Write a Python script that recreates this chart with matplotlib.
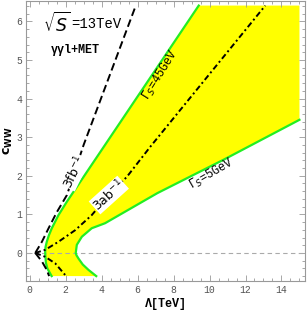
import matplotlib
matplotlib.use("Agg")
import matplotlib.pyplot as plt
from matplotlib.ticker import MultipleLocator

# boundary Gamma_S = 45 GeV (left edge of the band), bottom to top
lam_45 = [1.22, 0.98, 0.9, 0.86, 0.88, 0.95, 1.07, 1.23, 1.6, 2.07, 9.4]
c_45 = [-0.6, -0.4, -0.25, 0.0, 0.15, 0.29, 0.46, 0.64, 0.98, 1.33, 6.41]

# boundary Gamma_S = 5 GeV (right edge of the band), bottom to top
lam_5 = [3.7, 3.27, 2.95, 2.72, 2.6, 2.56, 2.62, 2.9, 3.45, 4.19, 7.1, 10.8, 15.0]
c_5 = [-0.6, -0.44, -0.3, -0.15, -0.06, 0.0, 0.21, 0.42, 0.64, 0.77, 1.55, 2.42, 3.45]

# 3 fb^-1 contour (two branches)
lam_3fb_up = [0.31, 0.68, 1.05, 1.5, 2.07, 3.0, 5.9]
c_3fb_up = [0.0, 0.29, 0.64, 1.05, 1.5, 2.8, 6.41]
lam_3fb_dn = [0.31, 0.68, 0.95, 1.08]
c_3fb_dn = [0.0, -0.22, -0.44, -0.6]

# 3 ab^-1 contour (two branches)
lam_3ab_up = [0.31, 0.86, 1.6, 2.53, 3.45, 3.92, 4.5, 5.4, 6.72, 13.1]
c_3ab_up = [0.0, 0.08, 0.29, 0.59, 0.98, 1.24, 1.55, 1.97, 2.76, 6.41]
lam_3ab_dn = [0.31, 0.86, 1.42, 1.97]
c_3ab_dn = [0.0, -0.1, -0.27, -0.57]

mono = "Liberation Mono"
green = "#22ee22"

fig = plt.figure(figsize=(3.07, 3.12), dpi=100)
ax = fig.add_axes([0.085, 0.099, 0.908, 0.898])

# yellow band between the two width contours
band_x = lam_45 + [lam_5[-1]] + lam_5[::-1]
band_y = c_45 + [c_45[-1]] + c_5[::-1]
ax.fill(band_x, band_y, color="#ffff00", lw=0, zorder=1)

ax.axhline(0, color="#aaaaaa", lw=0.8, ls=(0, (4, 3)), zorder=2)

ax.plot(lam_45, c_45, color=green, lw=1.6, zorder=3)
ax.plot(lam_5, c_5, color=green, lw=1.6, zorder=3)

ax.plot(lam_3fb_up, c_3fb_up, color="black", lw=1.4, ls=(0, (4, 2)), zorder=4)
ax.plot(lam_3fb_dn, c_3fb_dn, color="black", lw=1.4, ls=(0, (4, 2)), zorder=4)
dashdot = (0, (3, 1.5, 1, 1.5))
ax.plot(lam_3ab_up, c_3ab_up, color="black", lw=1.4, ls=dashdot, zorder=4)
ax.plot(lam_3ab_dn, c_3ab_dn, color="black", lw=1.4, ls=dashdot, zorder=4)

# contour labels
box = dict(facecolor="white", edgecolor="none", pad=0.3)
ax.text(2.5, 2.1, r"3fb$^{-1}$", rotation=64, fontsize=9, ha="center", va="center",
        bbox=box, zorder=5)
ax.text(4.4, 1.5, r"3ab$^{-1}$", rotation=42, fontsize=9, ha="center", va="center",
        bbox=box, zorder=5)
ax.text(7.3, 4.6, r"$\Gamma_S$=45GeV", rotation=58, fontsize=8.5, ha="center", va="center",
        family=mono, zorder=5)
ax.text(10.1, 2.05, r"$\Gamma_S$=5GeV", rotation=30, fontsize=8.5, ha="center", va="center",
        family=mono, zorder=5)

ax.text(0.75, 5.93, r"$\sqrt{S}$", fontsize=12.5, va="center")
ax.text(2.3, 5.93, "=13TeV", fontsize=10, family=mono, va="center")
ax.text(1.17, 5.27, "γγl+MET", fontsize=8.5, family=mono, weight="bold", va="center")

ax.set_xlim(-0.2, 15.3)
ax.set_ylim(-0.73, 6.53)

ax.xaxis.set_major_locator(MultipleLocator(2))
ax.xaxis.set_minor_locator(MultipleLocator(0.5))
ax.yaxis.set_major_locator(MultipleLocator(1))
ax.yaxis.set_minor_locator(MultipleLocator(0.2))
ax.tick_params(which="both", direction="in", top=True, right=True, color="#999999",
               width=0.6)
ax.tick_params(which="major", length=4, labelsize=7, labelcolor="#555555", pad=3)
ax.tick_params(which="minor", length=2)
for lab in ax.get_xticklabels() + ax.get_yticklabels():
    lab.set_family(mono)
for s in ax.spines.values():
    s.set_color("#999999")
    s.set_linewidth(0.8)

ax.set_xlabel("Λ[TeV]", family=mono, weight="bold", fontsize=8.5, labelpad=2)
ax.set_ylabel(r"$\mathbf{c}_{\mathbf{WW}}$", fontsize=9, labelpad=1)

fig.savefig("out.png", dpi=100)
